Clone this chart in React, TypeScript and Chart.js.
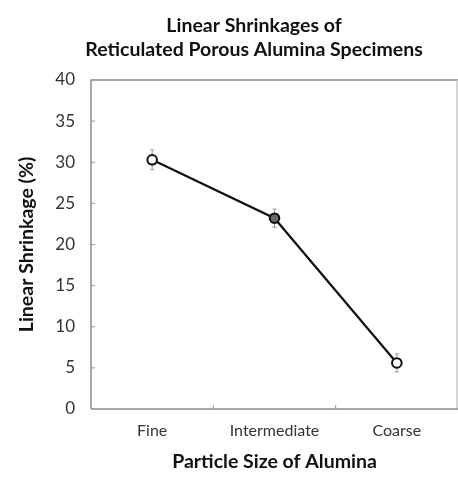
import React, { useEffect, useRef } from "react";
import { Chart, registerables } from "chart.js";

Chart.register(...registerables);

const categories = ["Fine", "Intermediate", "Coarse"];
const shrinkage = [30.3, 23.2, 5.6];
const errors = [1.2, 1.1, 1.1];
const yTicks = [0, 5, 10, 15, 20, 25, 30, 35, 40];
const pointFills = ["#ffffff", "#6a6a6a", "#ffffff"];
const titleLines = ["Linear Shrinkages of", "Reticulated Porous Alumina Specimens"];

const FONT = "Lato, 'Open Sans', sans-serif";
const PLOT_RIGHT = 458;

const stretchPlugin = {
  id: "stretchRight",
  afterLayout(chart: any) {
    const x = chart.scales.x;
    chart.chartArea.right = PLOT_RIGHT;
    chart.chartArea.width = PLOT_RIGHT - chart.chartArea.left;
    x.right = PLOT_RIGHT;
    x.width = PLOT_RIGHT - x.left;
    x.configure();
  },
};

const titlePlugin = {
  id: "customTitle",
  afterDraw(chart: any) {
    const { ctx } = chart;
    ctx.save();
    ctx.fillStyle = "#111111";
    ctx.font = `bold 19.5px ${FONT}`;
    ctx.textAlign = "center";
    ctx.textBaseline = "middle";
    titleLines.forEach((t, i) => {
      ctx.fillText(t, 254, 26 + i * 24);
    });
    ctx.restore();
  },
};

const framePlugin = {
  id: "frameAndErrors",
  beforeDatasetsDraw(chart: any) {
    const { ctx, chartArea, scales } = chart;
    const y = scales.y;
    const x = scales.x;
    ctx.save();
    ctx.strokeStyle = "#8c8c8c";
    ctx.lineWidth = 1.5;
    ctx.beginPath();
    ctx.moveTo(chartArea.left, chartArea.bottom);
    ctx.lineTo(chartArea.left, chartArea.top);
    ctx.lineTo(chartArea.right, chartArea.top);
    ctx.stroke();
    ctx.strokeStyle = "#c8c8c8";
    ctx.beginPath();
    ctx.moveTo(457, chartArea.top);
    ctx.lineTo(457, chartArea.bottom);
    ctx.stroke();
    ctx.strokeStyle = "#8c8c8c";
    ctx.beginPath();
    ctx.moveTo(chartArea.left, chartArea.bottom);
    ctx.lineTo(chartArea.right, chartArea.bottom);
    ctx.stroke();
    ctx.lineWidth = 1;
    ctx.strokeStyle = "#999999";
    yTicks.forEach((v) => {
      if (v === 0 || v === 40) return;
      const py = y.getPixelForValue(v);
      ctx.beginPath();
      ctx.moveTo(chartArea.left, py);
      ctx.lineTo(chartArea.left + 4, py);
      ctx.stroke();
    });
    for (let i = 0; i < categories.length - 1; i++) {
      const px = (x.getPixelForValue(i) + x.getPixelForValue(i + 1)) / 2;
      ctx.beginPath();
      ctx.moveTo(px, chartArea.bottom);
      ctx.lineTo(px, chartArea.bottom - 4);
      ctx.stroke();
    }
    ctx.strokeStyle = "#9a9a9a";
    ctx.lineWidth = 1;
    shrinkage.forEach((v, i) => {
      const px = x.getPixelForValue(i);
      const top = y.getPixelForValue(v + errors[i]);
      const bot = y.getPixelForValue(v - errors[i]);
      ctx.beginPath();
      ctx.moveTo(px, top);
      ctx.lineTo(px, bot);
      ctx.moveTo(px - 2, top);
      ctx.lineTo(px + 2, top);
      ctx.moveTo(px - 2, bot);
      ctx.lineTo(px + 2, bot);
      ctx.stroke();
    });
    ctx.restore();
  },
};

export default function App() {
  const ref = useRef<HTMLCanvasElement>(null);
  useEffect(() => {
    if (!ref.current) return;
    const chart = new Chart(ref.current, {
      type: "line",
      data: {
        labels: categories,
        datasets: [
          {
            data: shrinkage,
            borderColor: "#111111",
            borderWidth: 2.2,
            pointBackgroundColor: pointFills,
            pointBorderColor: "#111111",
            pointBorderWidth: 2,
            pointRadius: 4.8,
            tension: 0,
          },
        ],
      },
      options: {
        responsive: false,
        animation: false,
        layout: { padding: { left: 0, right: 0, top: 80, bottom: 0 } },
        plugins: {
          legend: { display: false },
          tooltip: { enabled: false },
          title: { display: false },
        },
        scales: {
          x: {
            type: "category",
            offset: true,
            grid: { display: false, drawTicks: false },
            border: { display: false },
            ticks: {
              color: "#333333",
              font: { family: FONT, size: 16 },
              padding: 12,
            },
            title: {
              display: true,
              text: "Particle Size of Alumina",
              color: "#111111",
              font: { family: FONT, size: 19.5, weight: "bold" },
              padding: { top: 4, bottom: 6 },
            },
            afterFit: (s: any) => {
              s.height = 70;
              s.paddingLeft = 0;
              s.paddingRight = 0;
            },
          },
          y: {
            min: 0,
            max: 40,
            afterBuildTicks: (s: any) => {
              s.ticks = yTicks.map((v) => ({ value: v }));
            },
            grid: { display: false, drawTicks: false },
            border: { display: false },
            ticks: {
              color: "#333333",
              font: { family: FONT, size: 17 },
              padding: 16,
            },
            title: {
              display: true,
              text: "Linear Shrinkage (%)",
              color: "#111111",
              font: { family: FONT, size: 19.5, weight: "bold" },
              padding: { top: 15, bottom: 0 },
            },
            afterFit: (s: any) => {
              s.width = 91;
            },
          },
        },
      },
      plugins: [stretchPlugin, framePlugin, titlePlugin],
    });
    return () => chart.destroy();
  }, []);
  return (
    <div style={{ position: "absolute", left: 0, top: 0, width: 458, height: 479, background: "#fff" }}>
      <canvas ref={ref} width={458} height={479} />
    </div>
  );
}
